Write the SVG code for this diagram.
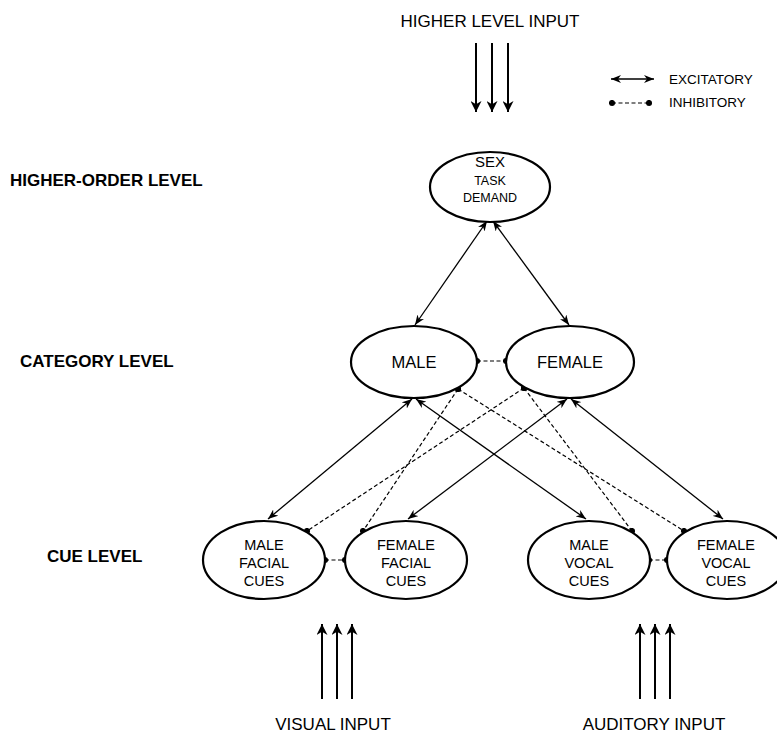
<svg xmlns="http://www.w3.org/2000/svg" width="777" height="733" viewBox="0 0 777 733">
<style>
text{font-family:"Liberation Sans",Arial,sans-serif;fill:#000;text-anchor:middle}
.lvl{font-weight:bold;font-size:17px;text-anchor:start}
.lab{font-size:17px}
.leg{font-size:13.5px;text-anchor:start}
.cue{font-size:14.5px}
.node ellipse{fill:#fff;stroke:#000;stroke-width:2.2}
.exc{stroke:#000;stroke-width:1.3;fill:none;marker-start:url(#ah);marker-end:url(#ah)}
.inh{stroke:#000;stroke-width:1.2;fill:none;stroke-dasharray:4 2.5;marker-start:url(#dot);marker-end:url(#dot)}
.inp{stroke:#000;stroke-width:2;fill:none;marker-end:url(#ah2)}
</style>
<defs>
<marker id="ah" viewBox="0 0 10 8" refX="10" refY="4" markerWidth="10" markerHeight="8" markerUnits="userSpaceOnUse" orient="auto-start-reverse">
<path d="M0,0 L10,4 L0,8 L3,4 z" fill="#000"/>
</marker>
<marker id="ah2" viewBox="0 0 10 10" refX="10" refY="5" markerWidth="11" markerHeight="11" markerUnits="userSpaceOnUse" orient="auto">
<path d="M0,0 L10,5 L0,10 L3,5 z" fill="#000"/>
</marker>
<marker id="dot" viewBox="0 0 8 8" refX="4" refY="4" markerWidth="7" markerHeight="7" markerUnits="userSpaceOnUse">
<circle cx="4" cy="4" r="3.5" fill="#000"/>
</marker>
</defs>
<rect width="777" height="733" fill="#fff"/>

<g id="labels">
<text class="lab" x="490" y="27">HIGHER LEVEL INPUT</text>
<text class="lvl" x="10" y="186">HIGHER-ORDER LEVEL</text>
<text class="lvl" x="20" y="367">CATEGORY LEVEL</text>
<text class="lvl" x="47" y="562">CUE LEVEL</text>
<text class="lab" x="333" y="730">VISUAL INPUT</text>
<text class="lab" x="654" y="730">AUDITORY INPUT</text>
</g>

<g id="legend">
<line class="exc" x1="611" y1="79" x2="654" y2="79"/>
<line class="inh" x1="612" y1="103" x2="649" y2="103"/>
<text class="leg" x="669" y="84">EXCITATORY</text>
<text class="leg" x="669" y="107">INHIBITORY</text>
</g>

<g id="connectors">
<line class="inp" x1="476" y1="43" x2="476" y2="112"/>
<line class="inp" x1="492" y1="43" x2="492" y2="112"/>
<line class="inp" x1="508" y1="43" x2="508" y2="112"/>
<line class="inp" x1="322" y1="699" x2="322" y2="624"/>
<line class="inp" x1="337" y1="699" x2="337" y2="624"/>
<line class="inp" x1="352" y1="699" x2="352" y2="624"/>
<line class="inp" x1="640" y1="699" x2="640" y2="624"/>
<line class="inp" x1="655" y1="699" x2="655" y2="624"/>
<line class="inp" x1="670" y1="699" x2="670" y2="624"/>

<line class="exc" x1="487" y1="221" x2="415" y2="325"/>
<line class="exc" x1="493" y1="221" x2="569" y2="325"/>
<line class="exc" x1="412" y1="399" x2="268" y2="519"/>
<line class="exc" x1="416" y1="399" x2="586" y2="519"/>
<line class="exc" x1="567" y1="399" x2="408" y2="519"/>
<line class="exc" x1="571" y1="399" x2="723" y2="519"/>

<line class="inh" x1="477" y1="361" x2="506" y2="361"/>
<line class="inh" x1="325" y1="560" x2="345" y2="560"/>
<line class="inh" x1="649" y1="560" x2="667" y2="560"/>
<line class="inh" x1="458" y1="389" x2="363" y2="531"/>
<line class="inh" x1="458" y1="389" x2="684" y2="531"/>
<line class="inh" x1="524" y1="388" x2="307" y2="531"/>
<line class="inh" x1="524" y1="388" x2="632" y2="531"/>
</g>

<g id="sex" class="node">
<ellipse cx="490" cy="187" rx="60" ry="35"/>
<text x="490" y="167" font-size="15">SEX</text>
<text x="490" y="185" font-size="12.5">TASK</text>
<text x="490" y="202" font-size="12.5">DEMAND</text>
</g>
<g id="male" class="node">
<ellipse cx="414" cy="362" rx="63" ry="36"/>
<text x="414" y="368" font-size="16.5">MALE</text>
</g>
<g id="female" class="node">
<ellipse cx="570" cy="362" rx="64" ry="36"/>
<text x="570" y="368" font-size="16.5">FEMALE</text>
</g>
<g id="male-facial" class="node">
<ellipse cx="264" cy="560" rx="61" ry="39"/>
<text class="cue" x="264" y="550">MALE</text>
<text class="cue" x="264" y="568">FACIAL</text>
<text class="cue" x="264" y="586">CUES</text>
</g>
<g id="female-facial" class="node">
<ellipse cx="406" cy="560" rx="61" ry="39"/>
<text class="cue" x="406" y="550">FEMALE</text>
<text class="cue" x="406" y="568">FACIAL</text>
<text class="cue" x="406" y="586">CUES</text>
</g>
<g id="male-vocal" class="node">
<ellipse cx="589" cy="560" rx="61" ry="39"/>
<text class="cue" x="589" y="550">MALE</text>
<text class="cue" x="589" y="568">VOCAL</text>
<text class="cue" x="589" y="586">CUES</text>
</g>
<g id="female-vocal" class="node">
<ellipse cx="727" cy="560" rx="60" ry="39"/>
<text class="cue" x="726" y="550">FEMALE</text>
<text class="cue" x="726" y="568">VOCAL</text>
<text class="cue" x="726" y="586">CUES</text>
</g>
</svg>
